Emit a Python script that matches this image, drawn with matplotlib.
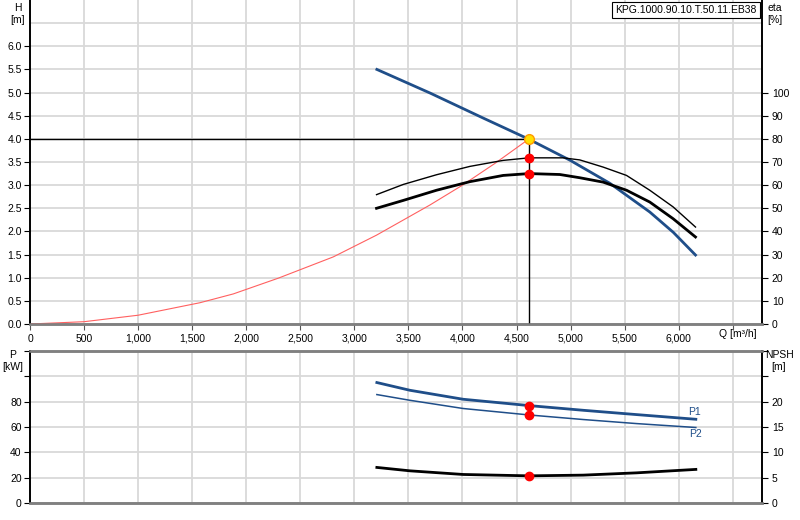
import numpy as np
import matplotlib
matplotlib.use("Agg")
import matplotlib.pyplot as plt
from matplotlib.ticker import FuncFormatter

plt.rcParams['font.family'] = ['Liberation Sans', 'DejaVu Sans']
plt.rcParams['font.size'] = 7.5

# Operating point
q_op = 4616
h_op = 4.0

# Pump head curve H(Q)
q_head = [3208, 3700, 4200, 4616, 4993, 5363, 5732, 5950, 6155]
h_head = [5.50, 4.99, 4.44, 3.99, 3.54, 3.04, 2.42, 1.98, 1.49]

# System curve
q_sys = [0, 500, 1000, 1572, 1880, 2296, 2805, 3205, 3698, 4000, 4300, 4616]
h_sys = [0, 0.05, 0.19, 0.46, 0.65, 0.99, 1.45, 1.92, 2.57, 3.00, 3.47, 4.0]

# Efficiency curves (eta %)
q_eta1 = [3205, 3452, 3760, 4068, 4376, 4616, 4931, 5085, 5301, 5517, 5732, 5948, 6155]
eta1 = [55.9, 60.3, 64.5, 68.1, 70.7, 71.8, 71.8, 70.9, 67.8, 64.2, 57.8, 50.6, 41.9]
q_eta2 = [3205, 3452, 3760, 4068, 4376, 4616, 4900, 5085, 5301, 5517, 5732, 5948, 6155]
eta2 = [50.0, 53.4, 57.8, 61.5, 64.2, 65.0, 64.6, 63.2, 61.3, 57.8, 52.7, 45.5, 37.6]

# Power curves P1, P2 [kW] and NPSH [m]
q_low = [3208, 3513, 4006, 4616, 5116, 5609, 6158]
p1 = [95.1, 89.0, 81.9, 76.9, 73.2, 69.8, 66.1]
p2 = [85.6, 81.1, 74.6, 69.5, 65.9, 62.7, 59.6]
npsh = [7.02, 6.35, 5.63, 5.36, 5.50, 5.95, 6.63]

p1_op = 76.9
p2_op = 69.5
npsh_op = 5.36
eta1_op = 71.8
eta2_op = 65.0

blue = '#1f4e89'
grid_c = '#d9d9d9'

fig = plt.figure(figsize=(8, 5.2), dpi=100)
ax = fig.add_axes([0.0375, 0.3769, 0.915, 0.6231])
ax_eta = ax.twinx()
bx = fig.add_axes([0.0375, 0.0327, 0.915, 0.2923])
bx_n = bx.twinx()

xmax = 6770

# ---- top chart ----
ax.set_xlim(0, xmax)
ax.set_ylim(0, 7)
ax_eta.set_ylim(0, 140)
ax.set_xticks(np.arange(0, 6501, 500))
ax.set_xticklabels([f"{v:,}" for v in range(0, 6001, 500)] + [""])
ax.set_yticks(np.arange(0, 6.01, 0.5))
ax.yaxis.set_major_formatter(FuncFormatter(lambda v, p: f"{v:.1f}"))
ax.set_yticks([6.5], minor=True)
ax.grid(True, which='both', color=grid_c, lw=1.3)
ax.set_axisbelow(True)
ax_eta.set_yticks(np.arange(0, 101, 10))

ax.plot(q_sys, h_sys, color='#ff6060', lw=0.8, zorder=3)
ax.plot([0, q_op], [h_op, h_op], color='black', lw=1, zorder=3)
ax.plot([q_op, q_op], [0, h_op], color='black', lw=1, zorder=3)
ax_eta.plot(q_eta1, eta1, color='black', lw=1)
ax_eta.plot(q_eta2, eta2, color='black', lw=2)
ax.plot(q_head, h_head, color=blue, lw=2, zorder=4)
ax_eta.plot([q_op, q_op], [eta1_op, eta2_op], 'o', color='red', ms=6, zorder=5)
ax_eta.plot([q_op], [h_op * 20], 'o', color='#ffe000', mec='#ff9900', mew=1, ms=7, zorder=6)

for a in (ax, ax_eta):
    a.spines['top'].set_visible(False)
    a.spines['bottom'].set_color('#808080')
    a.spines['bottom'].set_linewidth(1.8)
    a.spines['left'].set_linewidth(1.2)
    a.spines['right'].set_linewidth(1.2)
ax.tick_params(axis='x', length=4, color='#555555', pad=3)
ax.tick_params(axis='y', which='major', length=4, pad=2)
ax.tick_params(axis='y', which='minor', length=0)
ax_eta.tick_params(axis='y', length=4, pad=3)

fig.text(18 / 800, 1 - 3 / 520, "H\n[m]", ha='center', va='top', fontsize=7.5, linespacing=1.3)
fig.text(775 / 800, 1 - 3 / 520, "eta\n[%]", ha='center', va='top', fontsize=7.5, linespacing=1.3)
fig.text(757 / 800, 1 - 334 / 520, "Q [m³/h]", ha='right', va='center', fontsize=7.5)
fig.text(686 / 800, 1 - 10 / 520, "KPG.1000.90.10.T.50.11.EB38", ha='center', va='center',
         fontsize=7.5, bbox=dict(boxstyle='square,pad=0.3', fc='white', ec='black', lw=0.8))

# ---- bottom chart ----
bx.set_xlim(0, xmax)
bx.set_ylim(0, 120)
bx_n.set_ylim(0, 30)
bx.set_xticks(np.arange(0, 6501, 500))
bx.set_xticklabels([])
bx.set_yticks(np.arange(0, 121, 20))
bx.set_yticklabels(["0", "20", "40", "60", "80", "", ""])
bx_n.set_yticks(np.arange(0, 31, 5))
bx_n.set_yticklabels(["0", "5", "10", "15", "20", "", ""])
bx.grid(True, color=grid_c, lw=1.3)
bx.set_axisbelow(True)

bx.plot(q_low, p1, color=blue, lw=2)
bx.plot(q_low, p2, color=blue, lw=1.1)
bx_n.plot(q_low, npsh, color='black', lw=2)
bx.plot([q_op, q_op], [p1_op, p2_op], 'o', color='red', ms=6, zorder=5)
bx_n.plot([q_op], [npsh_op], 'o', color='red', ms=6, zorder=5)
bx.text(q_low[-1] - 70, p1[-1] + 6, "P1", color=blue, ha='left', va='center', fontsize=7.5)
bx.text(q_low[-1] - 60, p2[-1] - 5, "P2", color=blue, ha='left', va='center', fontsize=7.5)

for a in (bx, bx_n):
    a.spines['top'].set_color('#808080')
    a.spines['top'].set_linewidth(1.8)
    a.spines['bottom'].set_color('#808080')
    a.spines['bottom'].set_linewidth(1.8)
    a.spines['left'].set_linewidth(1.2)
    a.spines['right'].set_linewidth(1.2)
bx.tick_params(axis='x', length=0)
bx.tick_params(axis='y', length=4, pad=2)
bx_n.tick_params(axis='y', length=4, pad=3)

fig.text(13 / 800, 1 - 350 / 520, "P\n[kW]", ha='center', va='top', fontsize=7.5, linespacing=1.3)
fig.text(779 / 800, 1 - 350 / 520, "NPSH\n[m]", ha='center', va='top', fontsize=7.5, linespacing=1.3)

fig.savefig("out.png", dpi=100)
